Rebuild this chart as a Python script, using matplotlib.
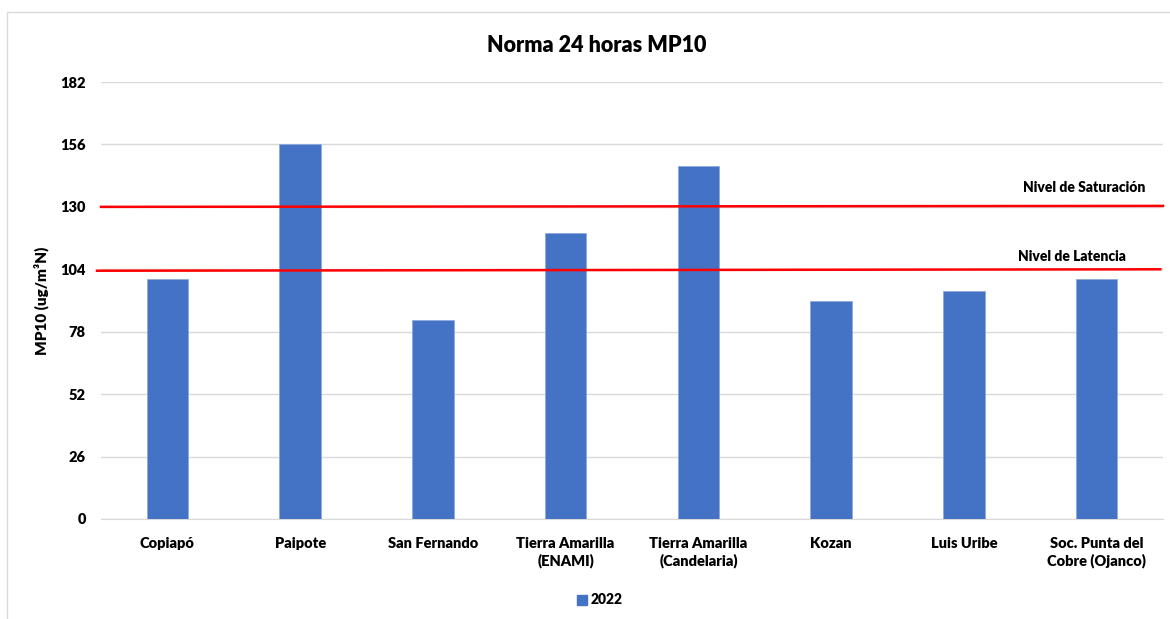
import matplotlib.pyplot as plt
import matplotlib.patches as mpatches
import numpy as np

plt.rcParams['font.family'] = ['Lato', 'DejaVu Sans']

estaciones = ["Copiapó", "Paipote", "San Fernando", "Tierra Amarilla\n(ENAMI)",
              "Tierra Amarilla\n(Candelaria)", "Kozan", "Luis Uribe",
              "Soc. Punta del\nCobre (Ojanco)"]
valores_2022 = [100, 156, 83, 119, 147, 91, 95, 100]
yticks = [0, 26, 52, 78, 104, 130, 156, 182]
nivel_saturacion = 130
nivel_latencia = 104

fig = plt.figure(figsize=(11.7, 6.19), dpi=100)
# borde gris del recuadro del grafico
fig.add_artist(mpatches.Rectangle((7 / 1170, -0.1), 1.2, (619 - 12) / 619 + 0.1,
                                  transform=fig.transFigure, fill=False,
                                  edgecolor='#d9d9d9', lw=1))

ax = fig.add_axes([101 / 1170, 1 - 519 / 619, 1062 / 1170, 437 / 619])
x = np.arange(len(estaciones))
ax.bar(x, valores_2022, width=0.314, color='#4472c4', edgecolor='#8faadc',
       linewidth=0.6, label='2022', zorder=3)

ax.set_xlim(-0.5, len(estaciones) - 0.5)
ax.set_ylim(0, 182)
ax.set_yticks(yticks)
ax.grid(axis='y', color='#d9d9d9', lw=1, zorder=0)
for s in ['top', 'right', 'left']:
    ax.spines[s].set_visible(False)
ax.spines['bottom'].set_color('#d9d9d9')
ax.tick_params(length=0)
ax.tick_params(axis='y', pad=11)
ax.tick_params(axis='x', pad=13)
ax.set_xticks(x)
ax.set_xticklabels(estaciones, fontsize=10.5, fontweight='heavy', linespacing=1.25)
for lab in ax.get_yticklabels():
    lab.set_fontweight('heavy')
    lab.set_fontsize(10.5)

ax.set_ylabel('MP10 (ug/m³N)', fontsize=11, fontweight='heavy', labelpad=8)

# niveles de norma
ax.plot([-0.5, 7.5], [nivel_saturacion, nivel_saturacion + 0.4], color='red', lw=1.8,
        zorder=4, clip_on=False)
ax.plot([-0.53, 7.48], [nivel_latencia - 0.6, nivel_latencia], color='red', lw=1.8,
        zorder=4, clip_on=False)
ax.text(7.37, nivel_saturacion + 5.5, 'Nivel de Saturación', ha='right', va='bottom',
        fontsize=10, fontweight='heavy')
ax.text(7.22, nivel_latencia + 2.5, 'Nivel de Latencia', ha='right', va='bottom',
        fontsize=10, fontweight='heavy')

fig.text(597 / 1170, 1 - 45 / 619, 'Norma 24 horas MP10', ha='center', va='center',
         fontsize=15.5, fontweight='heavy')

leg = fig.legend(handles=[mpatches.Patch(color='#4472c4', label='2022')],
                 loc='center', bbox_to_anchor=(600 / 1170, 1 - 600 / 619),
                 frameon=False, prop={'weight': 'heavy', 'size': 10},
                 handlelength=0.7, handleheight=0.7, handletextpad=0.3)

fig.savefig('out.png', dpi=100)
